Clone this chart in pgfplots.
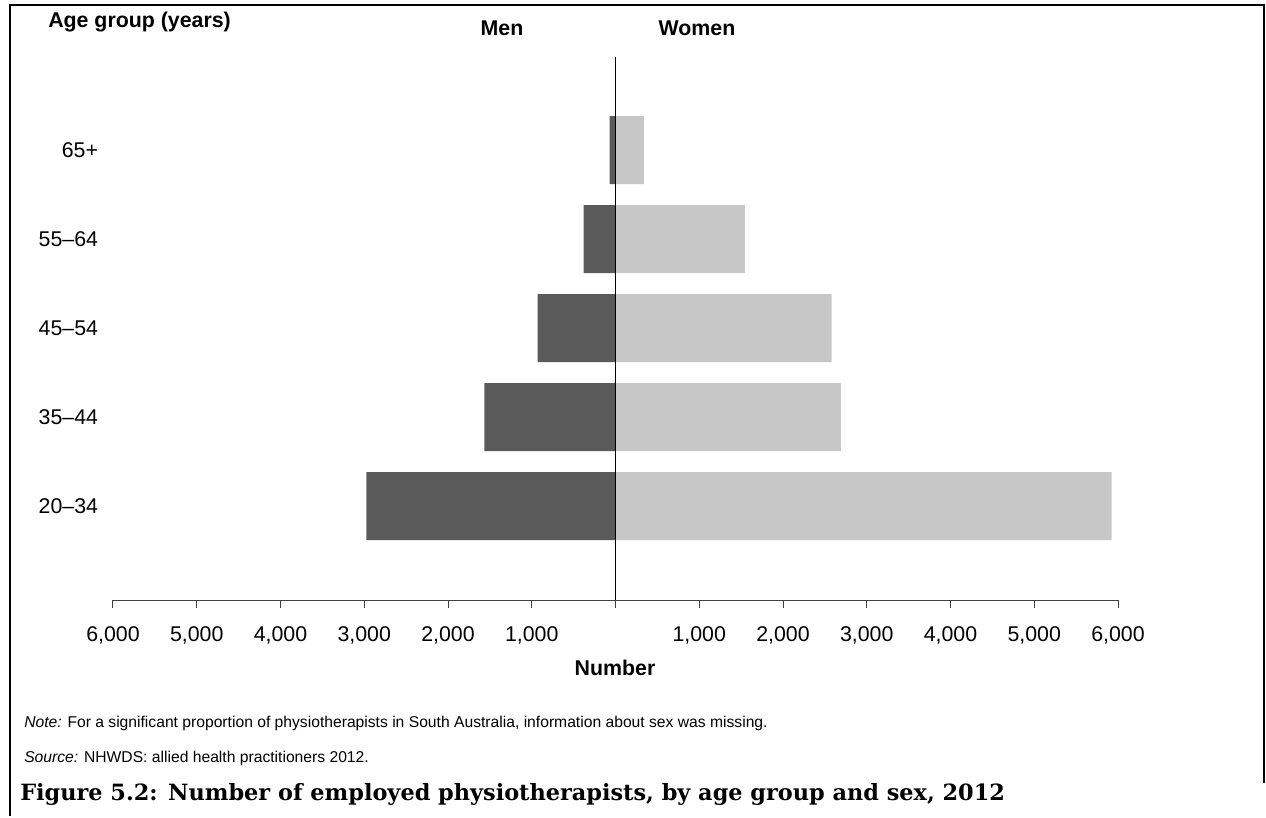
\documentclass[border=0pt]{standalone}
\usepackage{fontspec}
\setmainfont{Liberation Sans}
\newfontfamily\capfont{DejaVu Serif}
\usepackage{pgfplots}
\pgfplotsset{compat=1.18}
\definecolor{men}{HTML}{5A5A5A}
\definecolor{women}{HTML}{C7C7C7}
\begin{document}
\begin{tikzpicture}
\begin{axis}[
  at={(0pt,0pt)}, anchor=south west, scale only axis,
  width=753.75pt, height=407.25pt,
  xbar, bar width=0.764, bar shift=0pt,
  xmin=-6000, xmax=6000, ymin=-1.056, ymax=5.045,
  axis x line*=bottom, axis y line*=left,
  y axis line style={draw=none}, ytick style={draw=none},
  x axis line style={black!75, line width=0.75pt},
  x tick style={black!75, line width=0.75pt},
  tick align=outside, major tick length=6pt,
  ytick={0,1,2,3,4},
  yticklabels={20--34,35--44,45--54,55--64,65+},
  xtick={-6000,-5000,-4000,-3000,-2000,-1000,1000,2000,3000,4000,5000,6000},
  xticklabels={{6,000},{5,000},{4,000},{3,000},{2,000},{1,000},{1,000},{2,000},{3,000},{4,000},{5,000},{6,000}},
  extra x ticks={0}, extra x tick labels={},
  extra x tick style={tick style={black, line width=0.75pt}},
  tick label style={font=\fontsize{16}{19}\selectfont},
  yticklabel style={inner sep=0pt, anchor=east, xshift=-5pt},
  xticklabel style={inner sep=0pt, anchor=base, yshift=-24.75pt},
]
\addplot[fill=men, draw=none] coordinates {(-2975,0) (-1565,1) (-930,2) (-380,3) (-70,4)};
\addplot[fill=women, draw=none] coordinates {(5925,0) (2690,1) (2580,2) (1545,3) (340,4)};
\draw[black, line width=0.75pt] (axis cs:0,-1.056) -- (axis cs:0,5.045);
\end{axis}
\begin{scope}[shift={(-84.75pt,450pt)}, x=0.75pt, y=-0.75pt]
\path (0,0) (1266,816);
\draw[line width=1.5pt] (10,816) -- (10,5) -- (1264,5) -- (1264,783);
\node[font=\bfseries\fontsize{16}{19}\selectfont, anchor=base west, inner sep=0pt] at (48,28) {Age group (years)};
\node[font=\bfseries\fontsize{16}{19}\selectfont, anchor=base, inner sep=0pt] at (502,36) {Men};
\node[font=\bfseries\fontsize{16}{19}\selectfont, anchor=base, inner sep=0pt] at (697,36) {Women};
\node[font=\bfseries\fontsize{16}{19}\selectfont, anchor=base, inner sep=0pt] at (615,675) {Number};
\node[font=\fontsize{11.75}{14}\selectfont, anchor=base west, inner sep=0pt] at (24,727) {\textit{Note:} For a significant proportion of physiotherapists in South Australia, information about sex was missing.};
\node[font=\fontsize{11.75}{14}\selectfont, anchor=base west, inner sep=0pt] at (24,762) {\textit{Source:} NHWDS: allied health practitioners 2012.};
\node[font=\capfont\bfseries\fontsize{16.8}{20}\selectfont, anchor=base west, inner sep=0pt] at (20,800) {Figure 5.2: Number of employed physiotherapists, by age group and sex, 2012};
\end{scope}
\end{tikzpicture}
\end{document}
